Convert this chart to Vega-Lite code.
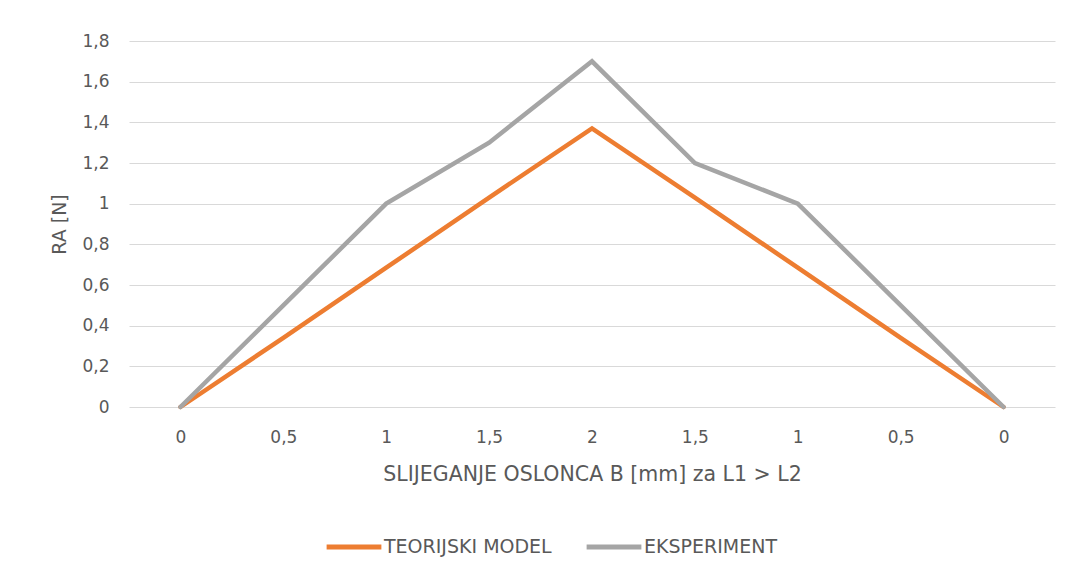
{
  "$schema": "https://vega.github.io/schema/vega-lite/v6.json",
  "width": 926,
  "height": 366,
  "autosize": {"type": "none"},
  "padding": {"left": 129, "top": 41, "right": 18, "bottom": 167},
  "background": "white",
  "config": {
    "font": "DejaVu Sans",
    "view": {"stroke": null},
    "axis": {"labelColor": "#595959", "titleColor": "#595959", "labelFont": "DejaVu Sans", "titleFont": "DejaVu Sans", "titleFontWeight": "normal"}
  },
  "data": {
    "values": [
      {"i": 0, "s": "0", "serija": "TEORIJSKI MODEL", "RA": 0},
      {"i": 1, "s": "0,5", "serija": "TEORIJSKI MODEL", "RA": 0.34},
      {"i": 2, "s": "1", "serija": "TEORIJSKI MODEL", "RA": 0.685},
      {"i": 3, "s": "1,5", "serija": "TEORIJSKI MODEL", "RA": 1.03},
      {"i": 4, "s": "2", "serija": "TEORIJSKI MODEL", "RA": 1.37},
      {"i": 5, "s": "1,5", "serija": "TEORIJSKI MODEL", "RA": 1.03},
      {"i": 6, "s": "1", "serija": "TEORIJSKI MODEL", "RA": 0.685},
      {"i": 7, "s": "0,5", "serija": "TEORIJSKI MODEL", "RA": 0.34},
      {"i": 8, "s": "0", "serija": "TEORIJSKI MODEL", "RA": 0},
      {"i": 0, "s": "0", "serija": "EKSPERIMENT", "RA": 0},
      {"i": 1, "s": "0,5", "serija": "EKSPERIMENT", "RA": 0.5},
      {"i": 2, "s": "1", "serija": "EKSPERIMENT", "RA": 1.0},
      {"i": 3, "s": "1,5", "serija": "EKSPERIMENT", "RA": 1.3},
      {"i": 4, "s": "2", "serija": "EKSPERIMENT", "RA": 1.7},
      {"i": 5, "s": "1,5", "serija": "EKSPERIMENT", "RA": 1.2},
      {"i": 6, "s": "1", "serija": "EKSPERIMENT", "RA": 1.0},
      {"i": 7, "s": "0,5", "serija": "EKSPERIMENT", "RA": 0.5},
      {"i": 8, "s": "0", "serija": "EKSPERIMENT", "RA": 0}
    ]
  },
  "mark": {"type": "line", "strokeWidth": 4.5, "strokeCap": "round", "strokeJoin": "miter"},
  "encoding": {
    "x": {
      "field": "i",
      "type": "ordinal",
      "scale": {"type": "point", "padding": 0.5},
      "axis": {
        "title": "SLIJEGANJE OSLONCA B [mm] za L1 > L2",
        "titleFontSize": 20.5,
        "titlePadding": 19,
        "labelFontSize": 17,
        "labelPadding": 22,
        "labelAngle": 0,
        "labelExpr": "['0','0,5','1','1,5','2','1,5','1','0,5','0'][datum.value]",
        "ticks": false,
        "domain": false,
        "grid": false
      }
    },
    "y": {
      "field": "RA",
      "type": "quantitative",
      "scale": {"domain": [0, 1.8], "nice": false},
      "axis": {
        "title": "RA [N]",
        "titleFontSize": 19,
        "titlePadding": 12,
        "labelFontSize": 17,
        "labelPadding": 20,
        "values": [0, 0.2, 0.4, 0.6, 0.8, 1, 1.2, 1.4, 1.6, 1.8],
        "labelExpr": "replace(format(datum.value, '.1~f'), '.', ',')",
        "ticks": false,
        "domain": false,
        "grid": true,
        "gridColor": "#d9d9d9",
        "gridWidth": 1.2
      }
    },
    "color": {
      "field": "serija",
      "type": "nominal",
      "sort": ["TEORIJSKI MODEL", "EKSPERIMENT"],
      "scale": {"domain": ["TEORIJSKI MODEL", "EKSPERIMENT"], "range": ["#ED7D31", "#A5A5A5"]},
      "legend": {
        "title": null,
        "orient": "none",
        "direction": "horizontal",
        "legendX": 195,
        "legendY": 476,
        "symbolType": "stroke",
        "symbolStrokeWidth": 5,
        "symbolSize": 3000,
        "labelFontSize": 19,
        "labelColor": "#595959",
        "labelOffset": 0,
        "columnPadding": 24,
        "labelLimit": 400,
        "labelFont": "DejaVu Sans"
      }
    }
  }
}
